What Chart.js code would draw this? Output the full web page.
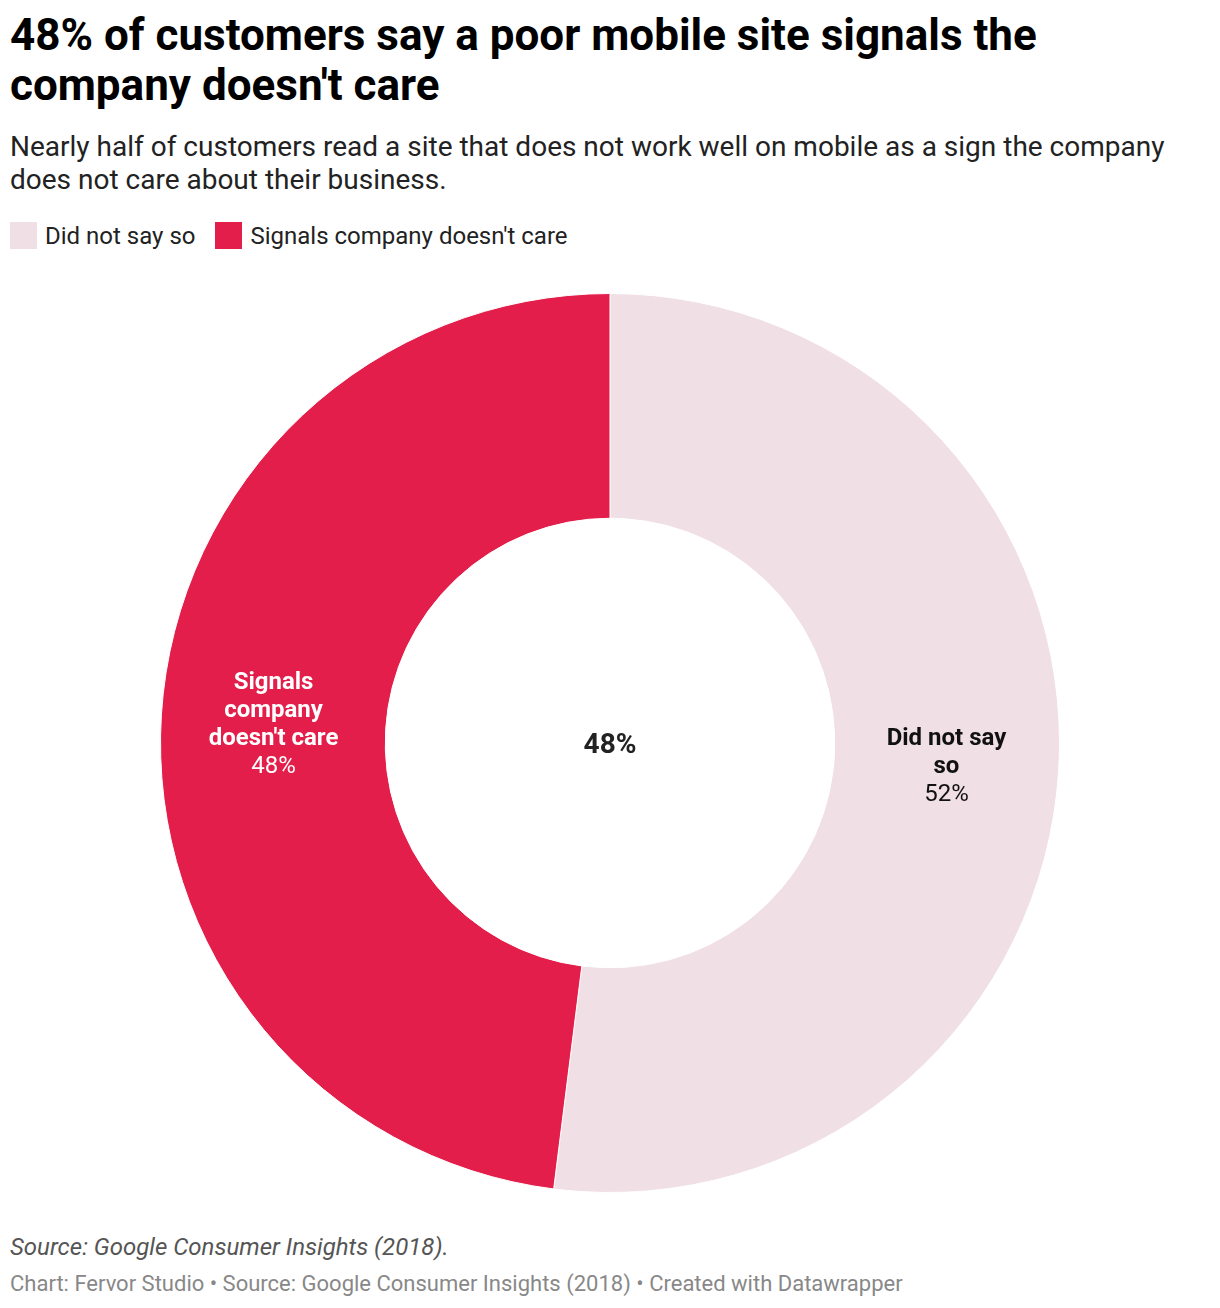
<!DOCTYPE html>
<html lang="en">
<head>
  <meta charset="UTF-8" />
  <title>Poor mobile site</title>
  <script src="https://cdn.jsdelivr.net/npm/chart.js"></script>
  <style>
    * { box-sizing: border-box; }
    body, html {
      margin: 0;
      width: 1220px;
      height: 1308px;
      background: #fff;
      font-family: Roboto, 'Noto Sans', sans-serif;
      overflow: hidden;
    }
    .titulo {
      position: absolute;
      left: 10px;
      top: 10px;
      margin: 0;
      font-size: 44px;
      line-height: 50px;
      font-weight: 700;
      color: #000;
      white-space: nowrap;
    }
    .subtitulo {
      position: absolute;
      left: 10px;
      top: 130px;
      width: 1190px;
      margin: 0;
      font-size: 28px;
      line-height: 33px;
      color: #222;
    }
    .legenda {
      position: absolute;
      left: 10px;
      top: 222px;
      display: flex;
      gap: 20px;
      font-size: 24px;
      color: #222;
    }
    .legenda span { display: flex; align-items: center; gap: 8px; height: 27px; }
    .legenda i { display: inline-block; width: 27px; height: 27px; }
    .grafico {
      position: absolute;
      left: 0;
      top: 293px;
      width: 1220px;
      height: 900px;
    }
    .fonte {
      position: absolute;
      left: 10px;
      top: 1233px;
      font-size: 24px;
      font-style: italic;
      color: #555;
    }
    .rodape {
      position: absolute;
      left: 10px;
      top: 1271px;
      font-size: 22px;
      color: #888;
    }
  </style>
</head>
<body>
  <h1 class="titulo">48% of customers say a poor mobile site signals the<br>company doesn't care</h1>
  <p class="subtitulo">Nearly half of customers read a site that does not work well on mobile as a sign the company does not care about their business.</p>
  <div class="legenda" id="legenda"></div>
  <div class="grafico"><canvas id="rosca"></canvas></div>
  <div class="fonte">Source: Google Consumer Insights (2018).</div>
  <div class="rodape">Chart: Fervor Studio • Source: Google Consumer Insights (2018) • Created with Datawrapper</div>

  <script>
    const categorias = ['Did not say so', "Signals company doesn't care"];
    const valores = [52, 48];
    const cores = ['#f0dfe4', '#e31e4a'];
    const coresTexto = ['#111', '#fff'];
    const textoCentral = '48%';

    document.getElementById('legenda').innerHTML = categorias
      .map((c, i) => `<span><i style="background:${cores[i]}"></i>${c}</span>`)
      .join('');

    function quebrarLinhas(ctx, texto, larguraMax) {
      const palavras = texto.split(' ');
      const linhas = [];
      let atual = '';
      palavras.forEach(p => {
        const teste = atual ? atual + ' ' + p : p;
        if (ctx.measureText(teste).width > larguraMax && atual) {
          linhas.push(atual);
          atual = p;
        } else {
          atual = teste;
        }
      });
      if (atual) linhas.push(atual);
      return linhas;
    }

    // rótulos dentro das fatias + valor no centro
    const rotulos = {
      id: 'rotulos',
      afterDatasetsDraw(chart) {
        const ctx = chart.ctx;
        const meta = chart.getDatasetMeta(0);
        ctx.save();
        ctx.textAlign = 'center';
        ctx.textBaseline = 'middle';
        meta.data.forEach((arco, i) => {
          const pos = arco.tooltipPosition();
          ctx.font = 'bold 24px Roboto';
          const linhas = quebrarLinhas(ctx, categorias[i], 140);
          const total = linhas.length + 1;
          const alturaLinha = 28;
          let y = pos.y + 3 - (total - 1) * alturaLinha / 2;
          ctx.fillStyle = coresTexto[i];
          linhas.forEach(l => {
            ctx.fillText(l, pos.x, y);
            y += alturaLinha;
          });
          ctx.font = '24px Roboto';
          ctx.fillText(valores[i] + '%', pos.x, y);
        });
        const centro = meta.data[0];
        ctx.font = 'bold 28px Roboto';
        ctx.fillStyle = '#222';
        ctx.fillText(textoCentral, centro.x, centro.y + 3);
        ctx.restore();
      }
    };

    new Chart(document.getElementById('rosca'), {
      type: 'doughnut',
      data: {
        labels: categorias,
        datasets: [{
          data: valores,
          backgroundColor: cores,
          borderColor: '#fff',
          borderWidth: 1
        }]
      },
      options: {
        responsive: true,
        maintainAspectRatio: false,
        animation: false,
        cutout: '50%',
        layout: { padding: 0 },
        plugins: {
          legend: { display: false },
          tooltip: { enabled: false }
        }
      },
      plugins: [rotulos]
    });
  </script>
</body>
</html>
